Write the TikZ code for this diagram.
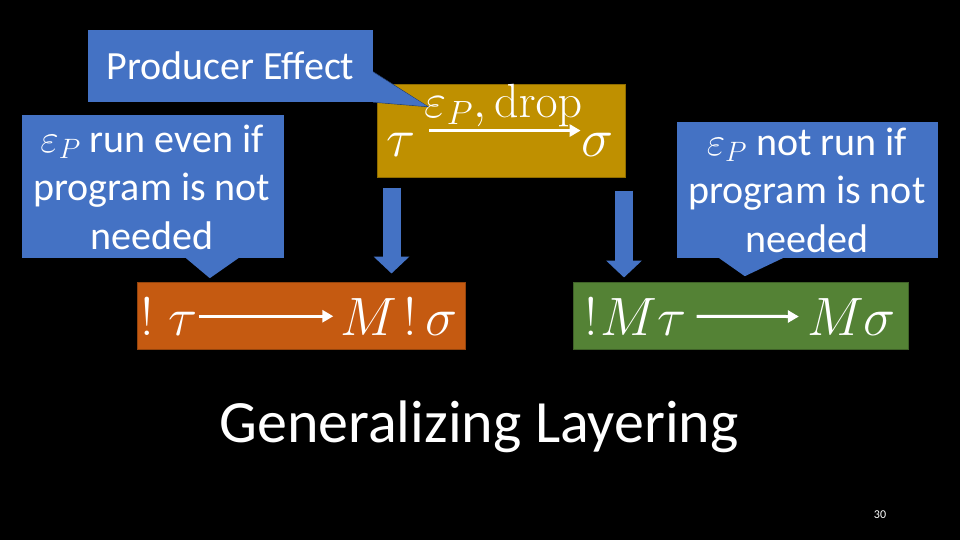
\RequirePackage{fix-cm}
\documentclass[tikz,border=0pt]{standalone}
\usepackage[no-math]{fontspec}
\setmainfont{Carlito}
\usetikzlibrary{arrows.meta,calc}
\definecolor{cblue}{HTML}{4472C4}
\definecolor{cgold}{HTML}{BF9000}
\definecolor{corange}{HTML}{C55A11}
\definecolor{cgreen}{HTML}{548235}
\begin{document}
\begin{tikzpicture}[x=1pt,y=-1pt,
  callbox/.style={fill=cblue, draw=none, inner sep=0pt},
  calltext/.style={text=white, font=\fontsize{40}{48.5}\selectfont, align=center, inner sep=0pt},
  mathbox/.style={draw=#1!75!black, line width=1pt, fill=#1, inner sep=0pt},
  mtxt/.style={text=white, font=\fontsize{54}{60}\selectfont, inner ysep=0pt, inner xsep=0pt},
  wharrow/.style={draw=white, line width=3pt, -{Triangle[length=11pt,width=12pt]}},
  bigarrow/.style={draw=cblue, line width=18pt, -{Triangle[length=17pt,width=35pt]}},
]
\useasboundingbox (0,0) rectangle (960,540);
\fill[black] (0,0) rectangle (960,540);

% gold box
\node[mathbox=cgold, minimum width=248pt, minimum height=93pt] (gold) at (501,131.5) {};
\node[mtxt, anchor=base west] (gtau) at (386,157) {$\tau$};
\node[mtxt, anchor=base east] (gsig) at (614,157) {$\sigma$};
\draw[wharrow, shorten <=14pt, shorten >=1pt] ([yshift=3pt]gtau.north east) -- ([yshift=3pt]gsig.north west)
  node[midway, above=2pt, xshift=5pt, text=white, font=\fontsize{48}{52}\selectfont, inner sep=0pt] (glab) {$\varepsilon_P,\mathrm{drop}$};

% Producer Effect callout
\node[callbox, minimum width=285pt, minimum height=72pt] (prod) at (230.5,66) {};
\fill[cblue, draw=cblue!55!black, line width=0.6pt] ($(prod.north east)+(0,42)$) -- ($(prod.north east)+(55,77)$) -- ($(prod.south east)+(0,0)$);
\fill[cblue] ($(prod.north east)+(-1,42.5)$) -- ($(prod.north east)+(54,76.5)$) -- ($(prod.south east)+(-1,-0.5)$) -- cycle;
\node[calltext] (prodt) at (prod.center) {Producer Effect};

% left callout
\node[callbox, minimum width=262pt, minimum height=143pt] (lcall) at (153,186.5) {};
\fill[cblue] ($(lcall.south west)+(163,-1)$) -- ($(lcall.south west)+(188,20)$) -- ($(lcall.south west)+(218,-1)$) -- cycle;
\node[calltext] (lcallt) at (152,187) {$\varepsilon_P$ run even if\\program is not\\needed};

% right callout
\node[callbox, minimum width=261pt, minimum height=136pt] (rcall) at (807.5,190) {};
\fill[cblue] ($(rcall.south west)+(41,-1)$) -- ($(rcall.south west)+(68,18)$) -- ($(rcall.south west)+(108,-1)$) -- cycle;
\node[calltext] (rcallt) at (807,190) {$\varepsilon_P$ not run if\\program is not\\needed};

% orange box
\node[mathbox=corange, minimum width=328pt, minimum height=67pt] (orange) at (301,315.5) {};
\node[mtxt, anchor=base west] (otau) at (140,335) {$!\;\tau$};
\node[mtxt, anchor=base east] (osig) at (458,335) {$M\mkern2mu!\,\sigma$};
\draw[wharrow, shorten <=1pt, shorten >=7pt] (otau.east) -- (osig.west);

% green box
\node[mathbox=cgreen, minimum width=335pt, minimum height=67pt] (green) at (740.5,315.5) {};
\node[mtxt, anchor=base west] (gmtau) at (584,335) {$!\mkern1mu M\tau$};
\node[mtxt, anchor=base east] (gmsig) at (896,335) {$M\sigma$};
\draw[wharrow, shorten <=10pt, shorten >=8pt] (gmtau.east) -- (gmsig.west);

% blue down arrows
\draw[bigarrow] ($(gold.south west)+(15,9)$) -- ($(gold.south west |- orange.north)+(15,-8)$);
\draw[bigarrow] ($(gold.south east)+(-1.5,12)$) -- ($(gold.south east |- green.north)+(-1.5,-4)$);

% title and page number
\node[text=white, font=\fontsize{60}{72}\selectfont, anchor=base, inner sep=0pt] (title) at (479,442) {Generalizing Layering};
\node[text=white, font=\fontsize{12}{14}\selectfont, inner sep=0pt] (pnum) at (880,515) {30};
\end{tikzpicture}
\end{document}
